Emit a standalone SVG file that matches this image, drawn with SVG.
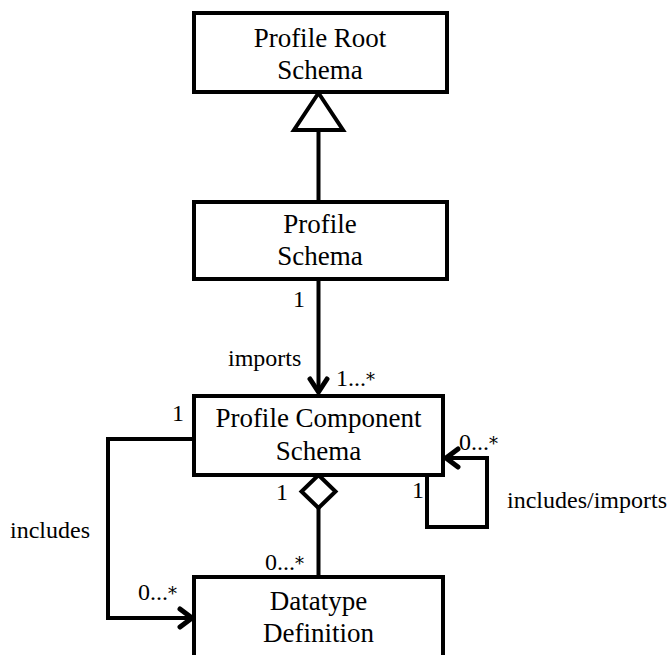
<svg xmlns="http://www.w3.org/2000/svg" width="672" height="655" viewBox="0 0 672 655">
<style>
.box{fill:#fff;stroke:#000;stroke-width:4;stroke-linejoin:miter}
.ln{fill:none;stroke:#000;stroke-width:4}
.hd{fill:none;stroke:#000;stroke-width:5;stroke-linecap:round;stroke-linejoin:miter}
.nt{font-family:"Liberation Serif",serif;font-size:27px;text-anchor:middle;fill:#000}
.lb{font-family:"Liberation Serif",serif;font-size:24px;fill:#000}
.st{font-family:"DejaVu Serif",serif;font-size:18px;fill:#000}
</style>
<rect width="672" height="655" fill="#fff"/>
<g id="connectors">
  <line class="ln" x1="318.5" y1="130" x2="318.5" y2="202"/>
  <polygon points="318.5,93 343,130 294,130" fill="#fff" stroke="#000" stroke-width="4" stroke-linejoin="miter"/>
  <line class="ln" x1="318.5" y1="279" x2="318.5" y2="392"/>
  <polyline class="hd" points="310,379 318.5,392 327,379"/>
  <polyline class="ln" points="194,439 108,439 108,618 192,618"/>
  <polyline class="hd" points="180,609 192,618 180,627"/>
  <line class="ln" x1="318.5" y1="508" x2="318.5" y2="577"/>
  <polygon points="318.5,475 335.5,491.5 318.5,508 301.5,491.5" fill="#fff" stroke="#000" stroke-width="4"/>
  <polyline class="ln" points="445,458 487,458 487,527 427,527 427,475"/>
  <polyline class="hd" points="458,449 446,458 458,467"/>
</g>
<g id="profile-root-schema">
  <rect class="box" x="194" y="13" width="253" height="79"/>
  <text class="nt" x="320" y="47">Profile Root</text>
  <text class="nt" x="320" y="79">Schema</text>
</g>
<g id="profile-schema">
  <rect class="box" x="194" y="202" width="253" height="77"/>
  <text class="nt" x="320" y="233">Profile</text>
  <text class="nt" x="320" y="265">Schema</text>
</g>
<g id="profile-component-schema">
  <rect class="box" x="194" y="396" width="249" height="79"/>
  <text class="nt" x="318.5" y="427">Profile Component</text>
  <text class="nt" x="318.5" y="460">Schema</text>
</g>
<g id="datatype-definition">
  <rect class="box" x="194" y="577" width="249" height="90"/>
  <text class="nt" x="318.5" y="610">Datatype</text>
  <text class="nt" x="318.5" y="642">Definition</text>
</g>
<g id="labels">
  <text class="lb" x="293" y="307">1</text>
  <text class="lb" x="228" y="366">imports</text>
  <text class="lb" x="336" y="386">1...<tspan class="st">*</tspan></text>
  <text class="lb" x="172" y="421">1</text>
  <text class="lb" x="10" y="538">includes</text>
  <text class="lb" x="138" y="600">0...<tspan class="st">*</tspan></text>
  <text class="lb" x="276" y="500">1</text>
  <text class="lb" x="265" y="570">0...<tspan class="st">*</tspan></text>
  <text class="lb" x="412" y="498">1</text>
  <text class="lb" x="459" y="450">0...<tspan class="st">*</tspan></text>
  <text class="lb" x="507" y="508">includes/imports</text>
</g>
</svg>
